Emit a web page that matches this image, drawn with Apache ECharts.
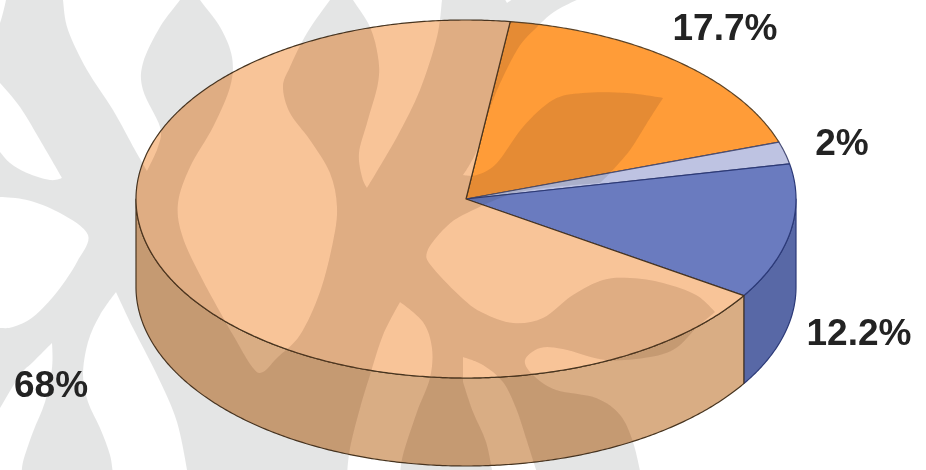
<!DOCTYPE html>
<html>
<head>
<meta charset="utf-8">
<style>html,body{margin:0;padding:0;background:#fff}#chart{width:926px;height:470px}</style>
<script src="https://cdn.jsdelivr.net/npm/echarts@6/dist/echarts.min.js"></script>
</head>
<body>
<div id="chart"></div>
<script>
// Slice shares, clockwise from the top of the disc
const sliceValues = [17.7, 2, 12.2, 68];
const sliceLabels = ['17.7%', '2%', '12.2%', '68%'];
const faceColors = ['#ff9c38', '#bec3e2', '#6a7bbf', '#f8c498'];
const wallColors = ['#d98a35', '#9aa0c0', '#5868a6', '#d9ad84'];
const edgeColors = ['#5c4326', '#4a4f78', '#2c3a78', '#47341f'];

// Label centres, in page pixels
const labelSpots = [[725, 30], [842, 145], [859, 335], [51, 387]];

// Disc geometry
const disc = { cx: 466, cy: 199, rx: 330, ry: 179, depth: 88, startDeg: 82.3 };

// Light gaps in the backdrop motif; a trailing 1 marks a sharp corner
const motifGaps = [
  [[6, -6, 1], [6, 0], [0, 23], [-6, 30, 1], [-6, -6, 1]],
  [[63, -6, 1], [63, 0], [68, 30], [87, 70], [113, 110], [135, 150], [147, 171, 1], [158, 147], [160, 127], [143, 90], [143, 63], [160, 27], [180, 0], [183, -6, 1]],
  [[198, -6, 1], [200, 0], [220, 27], [232, 57], [230, 87], [213, 127], [190, 167], [178, 203], [182, 235], [200, 275], [233, 335], [253, 368], [263, 372], [277, 358], [300, 335], [320, 292], [333, 242], [337, 207], [330, 173], [310, 140], [290, 113], [283, 87], [290, 67], [307, 33], [330, 0], [334, -6, 1]],
  [[350, -6, 1], [353, 0], [370, 27], [378, 57], [378, 83], [367, 123], [359, 153], [362, 177], [367, 188, 1], [397, 137], [420, 90], [437, 37], [442, 0], [443, -6, 1]],
  [[502, -6, 1], [507, 3, 1], [520, -6, 1]],
  [[-6, 78, 1], [0, 83], [20, 107], [40, 140], [62, 178, 1], [50, 180], [27, 173], [10, 163], [0, 152], [-6, 146, 1]],
  [[-6, 196, 1], [0, 197], [27, 200], [60, 213], [88, 235], [77, 262], [57, 292], [33, 317], [13, 327], [0, 328], [-6, 328, 1]],
  [[52, 343, 1], [52, 368], [45, 402], [33, 432], [23, 462], [22, 476, 1], [-6, 476, 1], [-6, 416, 1], [0, 408], [20, 375], [33, 362]],
  [[116, 292, 1], [133, 328], [157, 375], [177, 422], [188, 476, 1], [113, 476, 1], [110, 455], [100, 428], [88, 402], [83, 375], [88, 342], [100, 315]],
  [[400, 302, 1], [423, 322], [432, 348], [430, 378], [417, 412], [403, 455], [400, 476, 1], [347, 476, 1], [350, 448], [360, 408], [370, 375], [383, 335]],
  [[463, 357, 1], [483, 365], [503, 382], [516, 408], [526, 438], [538, 476, 1], [493, 476, 1], [486, 442], [473, 412], [463, 382, 1]],
  [[590, -6, 1], [557, 10], [537, 27], [517, 50], [493, 100], [477, 150], [463, 175, 1], [477, 175], [497, 163], [523, 127], [553, 100], [583, 93], [627, 93], [663, 98, 1], [647, 123], [630, 150], [610, 173], [600, 183, 1], [520, 192], [467, 213], [445, 228], [427, 252], [433, 268], [463, 299], [483, 313], [513, 323], [543, 318], [573, 295], [603, 280], [630, 278], [663, 283], [696, 295], [715, 312, 1], [703, 322], [696, 328], [676, 348], [650, 357], [606, 360], [563, 349], [540, 348], [525, 360], [533, 375], [556, 390], [596, 398], [620, 415], [633, 442], [641, 476, 1], [932, 476, 1], [932, -6, 1]]
];

function signedArea(pts) {
  let a = 0;
  pts.forEach((p, i) => {
    const q = pts[(i + 1) % pts.length];
    a += p[0] * q[1] - q[0] * p[1];
  });
  return a;
}

// Closed Catmull-Rom outline wound so that it cuts a hole in the clockwise sheet
function gapPath(source) {
  const pts = signedArea(source) > 0 ? source.slice().reverse() : source;
  const n = pts.length;
  const tangent = i => {
    const p = pts[i];
    if (p[2]) return [0, 0];
    const a = pts[(i - 1 + n) % n], b = pts[(i + 1) % n];
    return [(b[0] - a[0]) / 6, (b[1] - a[1]) / 6];
  };
  let d = 'M' + pts[0][0] + ' ' + pts[0][1];
  for (let i = 0; i < n; i++) {
    const j = (i + 1) % n, t0 = tangent(i), t1 = tangent(j);
    d += 'C' + (pts[i][0] + t0[0]) + ' ' + (pts[i][1] + t0[1]) + ' ' +
      (pts[j][0] - t1[0]) + ' ' + (pts[j][1] - t1[1]) + ' ' + pts[j][0] + ' ' + pts[j][1];
  }
  return d + 'Z';
}

const motifPath = 'M-10 -10L940 -10L940 480L-10 480Z' + motifGaps.map(gapPath).join('');

const total = sliceValues.reduce((s, v) => s + v, 0);

function rim(deg, drop) {
  const t = deg * Math.PI / 180;
  return [disc.cx + disc.rx * Math.cos(t), disc.cy - disc.ry * Math.sin(t) + (drop || 0)];
}

function arc(from, to, drop) {
  const steps = Math.max(2, Math.ceil(Math.abs(to - from) * 2));
  const out = [];
  for (let i = 0; i <= steps; i++) out.push(rim(from + (to - from) * i / steps, drop));
  return out;
}

function sliceRange(index) {
  let start = disc.startDeg;
  for (let i = 0; i < index; i++) start -= sliceValues[i] / total * 360;
  return [start, start - sliceValues[index] / total * 360];
}

function renderSlice(params, api) {
  const i = params.dataIndex;
  const sweep = api.value(0) / total * 360;
  const start = sliceRange(i)[0];
  const end = start - sweep;
  const children = [];

  // The wall shows only where the rim runs along the front of the disc
  for (let turn = 0; turn >= -360; turn -= 360) {
    const from = Math.min(start, 0 + turn);
    const to = Math.max(end, -180 + turn);
    if (from > to) {
      children.push({
        type: 'polygon',
        shape: { points: arc(from, to, 0).concat(arc(to, from, disc.depth)) },
        style: { fill: wallColors[i], stroke: edgeColors[i], lineWidth: 1.2, lineJoin: 'round' },
        silent: true
      });
    }
  }

  children.push({
    type: 'polygon',
    shape: { points: [[disc.cx, disc.cy]].concat(arc(start, end, 0)) },
    style: { fill: faceColors[i], stroke: edgeColors[i], lineWidth: 1.2, lineJoin: 'round' },
    silent: true
  });
  return { type: 'group', children: children };
}

// Outline of the warm part of the disc: the large slice with its wall, then the orange slice
function warmOutline() {
  const largeStart = sliceRange(3)[0];
  const orangeEnd = sliceRange(0)[1];
  return [[disc.cx, disc.cy], rim(largeStart, 0)]
    .concat(arc(largeStart, -180, disc.depth))
    .concat(arc(-180, orangeEnd - 360, 0));
}

function renderLabel(params) {
  const spot = labelSpots[params.dataIndex];
  return {
    type: 'text',
    x: spot[0],
    y: spot[1],
    silent: true,
    style: {
      text: sliceLabels[params.dataIndex],
      fill: '#232323',
      font: 'bold 37px "Liberation Sans", Arial, sans-serif',
      align: 'center',
      verticalAlign: 'middle'
    }
  };
}

const chart = echarts.init(document.getElementById('chart'), null, { renderer: 'canvas' });
chart.setOption({
  animation: false,
  backgroundColor: '#ffffff',
  tooltip: { show: false },
  series: [
    {
      type: 'custom',
      coordinateSystem: 'none',
      z: 2,
      silent: true,
      renderItem: renderSlice,
      data: sliceValues.map(v => [v])
    },
    {
      // Faint backdrop motif laid over the disc, slightly warmer where it crosses the warm slices
      type: 'custom',
      coordinateSystem: 'none',
      z: 3,
      silent: true,
      renderItem: () => ({
        type: 'group',
        children: [
          {
            type: 'path',
            shape: { pathData: motifPath },
            style: { fill: 'rgba(38,46,50,0.125)', stroke: null },
            silent: true
          },
          {
            type: 'group',
            clipPath: { type: 'polygon', shape: { points: warmOutline() } },
            children: [{
              type: 'path',
              shape: { pathData: motifPath },
              style: { fill: 'rgba(255,90,0,0.05)', stroke: null },
              silent: true
            }]
          }
        ]
      }),
      data: [[0]]
    },
    {
      type: 'custom',
      coordinateSystem: 'none',
      z: 4,
      silent: true,
      renderItem: renderLabel,
      data: sliceValues.map(v => [v])
    }
  ]
});
</script>
</body>
</html>
